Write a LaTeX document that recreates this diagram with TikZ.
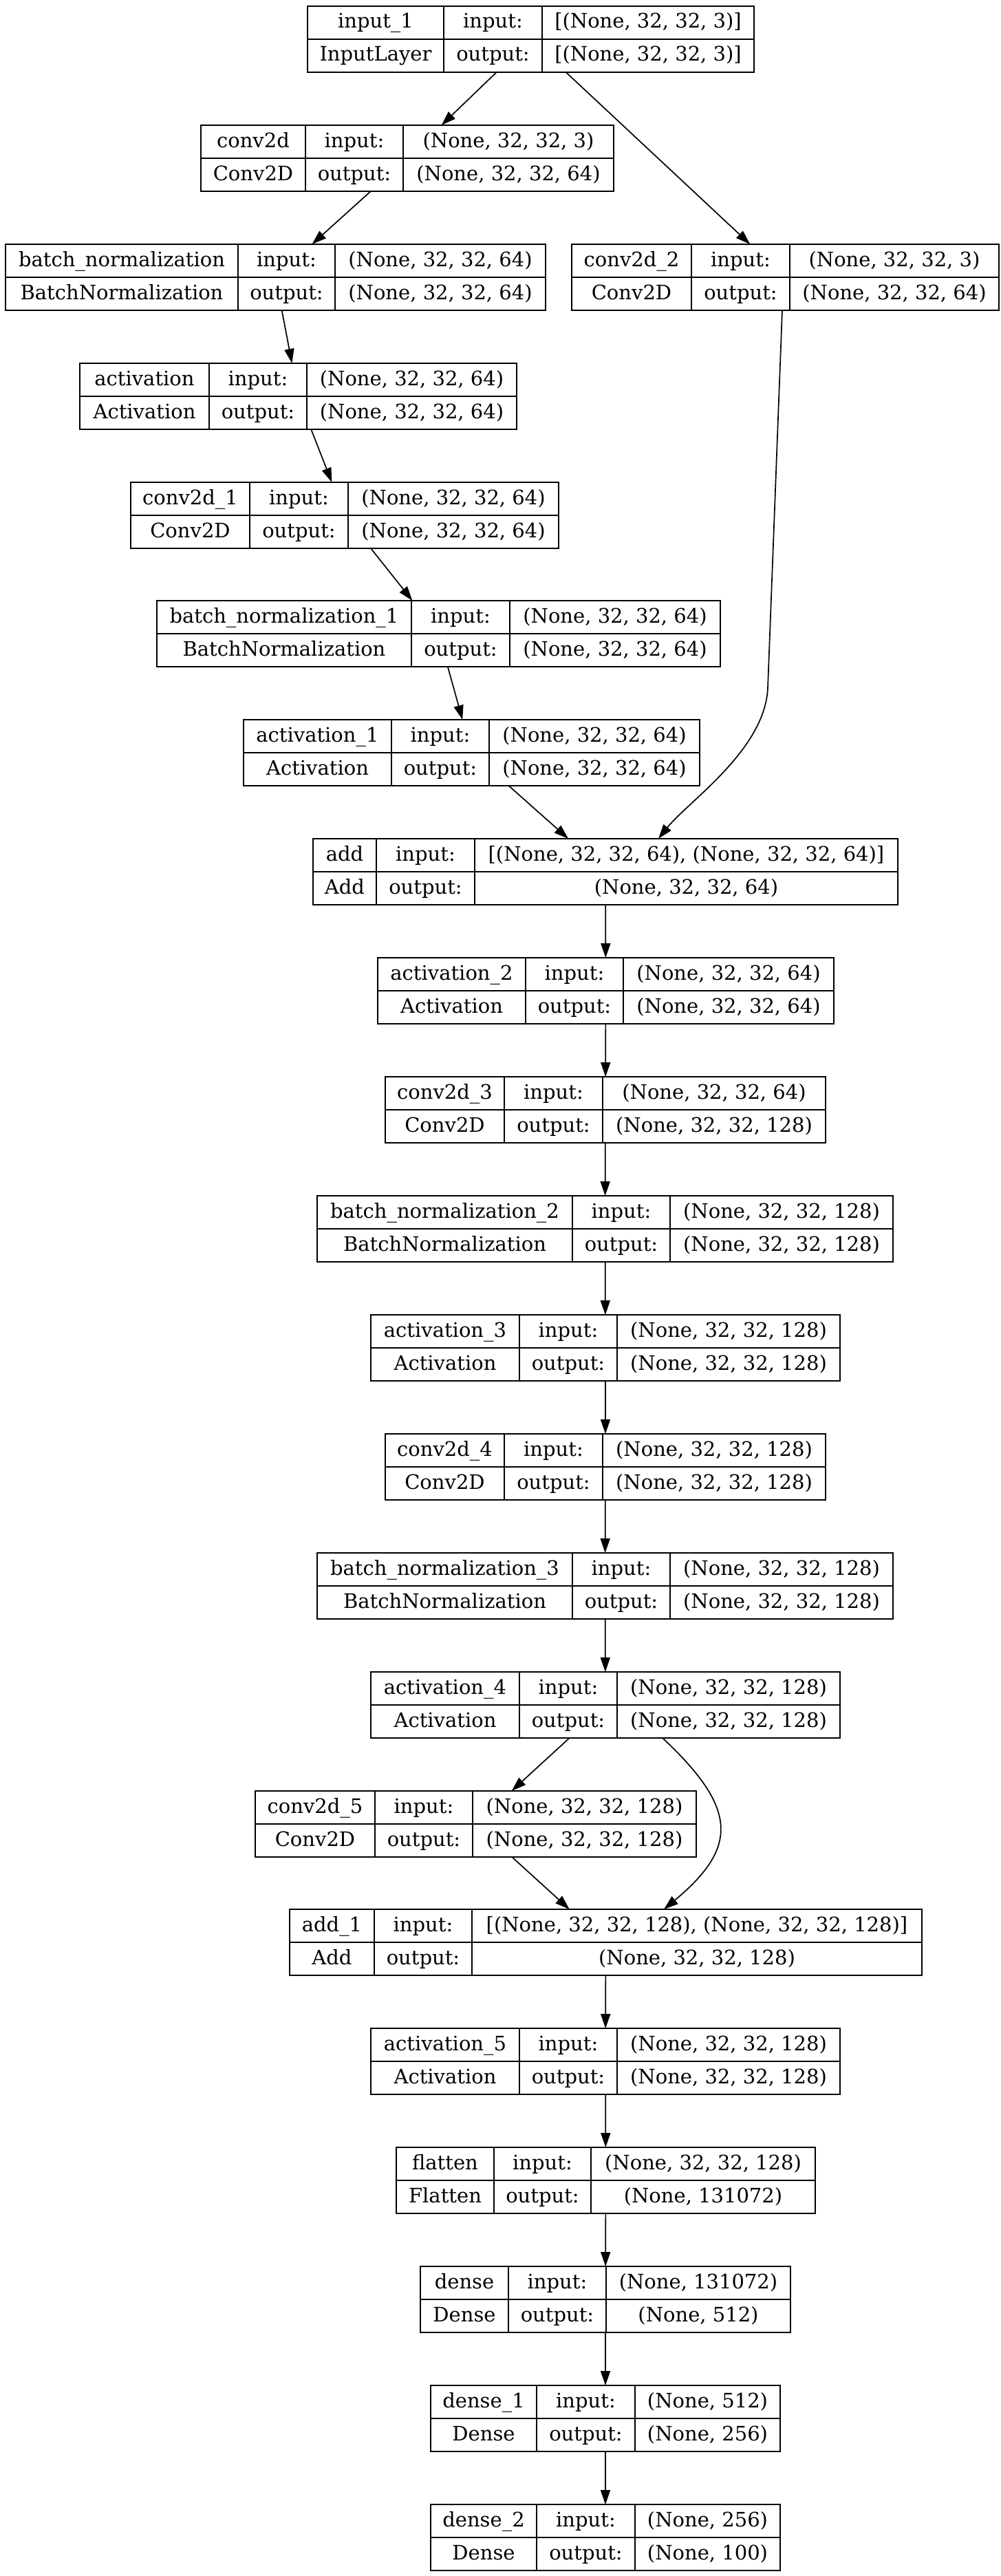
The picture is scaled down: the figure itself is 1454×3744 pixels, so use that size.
\documentclass[tikz,border=0pt]{standalone}
\usepackage{fontspec}
\setmainfont{DejaVu Serif}
\usetikzlibrary{arrows.meta}
\tikzset{
  box/.style={draw, rectangle, line width=2pt, inner sep=0pt, outer sep=0pt},
  sepline/.style={line width=2pt},
  txt/.style={font=\fontsize{29pt}{35pt}\selectfont, inner sep=0pt, anchor=base},
  edge/.style={line width=1.7pt, -{Triangle[length=21pt,width=14pt]}},
}
\newcommand\layer[9]{\def\Lnm{#1}\def\Lx{#2}\def\Ld{#3}\def\Le{#4}\def\Lr{#5}\def\Lt{#6}\def\Lna{#7}\def\Lnb{#8}\def\Lin{#9}\layerrest}
\newcommand\layerrest[1]{%
  \node[box, minimum width={\Lr-\Lx}, minimum height=96, anchor=north west] (\Lnm) at (\Lx,\Lt) {};
  \draw[sepline] (\Ld,\Lt) -- ++(0,96);
  \draw[sepline] (\Le,\Lt) -- ++(0,96);
  \draw[sepline] (\Lx,{\Lt+48}) -- (\Lr,{\Lt+48});
  \node[txt] (\Lnm-a) at ({(\Lx+\Ld)/2},{\Lt+32}) {\Lna};
  \node[txt] (\Lnm-b) at ({(\Lx+\Ld)/2},{\Lt+80}) {\Lnb};
  \node[txt] (\Lnm-c) at ({(\Ld+\Le)/2},{\Lt+32}) {input:};
  \node[txt] (\Lnm-d) at ({(\Ld+\Le)/2},{\Lt+80}) {output:};
  \node[txt] (\Lnm-e) at ({(\Le+\Lr)/2},{\Lt+32}) {\Lin};
  \node[txt] (\Lnm-f) at ({(\Le+\Lr)/2},{\Lt+80}) {#1};
}
\begin{document}
\begin{tikzpicture}[x=1pt,y=-1pt]
\fill[white] (0,0) rectangle (1454,3744);
\layer{inp}{447}{645}{788}{1096}{9}{input\_1}{InputLayer}{[(None, 32, 32, 3)]}{[(None, 32, 32, 3)]}
\layer{conv}{292}{444}{586}{892}{182}{conv2d}{Conv2D}{(None, 32, 32, 3)}{(None, 32, 32, 64)}
\layer{bn}{8}{346}{487}{793}{355}{batch\_normalization}{BatchNormalization}{(None, 32, 32, 64)}{(None, 32, 32, 64)}
\layer{convb}{831}{1005}{1148}{1452}{355}{conv2d\_2}{Conv2D}{(None, 32, 32, 3)}{(None, 32, 32, 64)}
\layer{act}{116}{304}{446}{751}{528}{activation}{Activation}{(None, 32, 32, 64)}{(None, 32, 32, 64)}
\layer{conva}{190}{363}{506}{812}{701}{conv2d\_1}{Conv2D}{(None, 32, 32, 64)}{(None, 32, 32, 64)}
\layer{bna}{228}{598}{741}{1047}{873}{batch\_normalization\_1}{BatchNormalization}{(None, 32, 32, 64)}{(None, 32, 32, 64)}
\layer{acta}{354}{569}{711}{1017}{1046}{activation\_1}{Activation}{(None, 32, 32, 64)}{(None, 32, 32, 64)}
\layer{add}{455}{547}{690}{1305}{1219}{add}{Add}{[(None, 32, 32, 64), (None, 32, 32, 64)]}{(None, 32, 32, 64)}
\layer{actb}{549}{764}{906}{1212}{1392}{activation\_2}{Activation}{(None, 32, 32, 64)}{(None, 32, 32, 64)}
\layer{convc}{560}{733}{876}{1200}{1565}{conv2d\_3}{Conv2D}{(None, 32, 32, 64)}{(None, 32, 32, 128)}
\layer{bnb}{461}{832}{974}{1298}{1738}{batch\_normalization\_2}{BatchNormalization}{(None, 32, 32, 128)}{(None, 32, 32, 128)}
\layer{actc}{539}{755}{897}{1221}{1911}{activation\_3}{Activation}{(None, 32, 32, 128)}{(None, 32, 32, 128)}
\layer{convd}{560}{733}{876}{1200}{2084}{conv2d\_4}{Conv2D}{(None, 32, 32, 128)}{(None, 32, 32, 128)}
\layer{bnc}{461}{832}{974}{1298}{2257}{batch\_normalization\_3}{BatchNormalization}{(None, 32, 32, 128)}{(None, 32, 32, 128)}
\layer{actd}{539}{755}{897}{1221}{2430}{activation\_4}{Activation}{(None, 32, 32, 128)}{(None, 32, 32, 128)}
\layer{conve}{371}{545}{687}{1012}{2603}{conv2d\_5}{Conv2D}{(None, 32, 32, 128)}{(None, 32, 32, 128)}
\layer{addb}{421}{544}{686}{1340}{2775}{add\_1}{Add}{[(None, 32, 32, 128), (None, 32, 32, 128)]}{(None, 32, 32, 128)}
\layer{acte}{539}{755}{897}{1221}{2948}{activation\_5}{Activation}{(None, 32, 32, 128)}{(None, 32, 32, 128)}
\layer{flat}{576}{718}{859}{1185}{3121}{flatten}{Flatten}{(None, 32, 32, 128)}{(None, 131072)}
\layer{dns}{611}{739}{881}{1149}{3294}{dense}{Dense}{(None, 131072)}{(None, 512)}
\layer{dnsa}{626}{780}{923}{1134}{3467}{dense\_1}{Dense}{(None, 512)}{(None, 256)}
\layer{dnsb}{626}{780}{923}{1134}{3640}{dense\_2}{Dense}{(None, 256)}{(None, 100)}
% connectors
\draw[edge] (inp) -- (conv);
\draw[edge] (inp) -- (convb);
\draw[edge] (conv) -- (bn);
\draw[edge] (bn) -- (act);
\draw[edge] (act) -- (conva);
\draw[edge] (conva) -- (bna);
\draw[edge] (bna) -- (acta);
\draw[edge] (acta) -- (add);
\draw[edge] ([xshift=-4.5pt]convb.south) -- (1116,1000) .. controls (1112,1090) and (1000,1165) .. ([xshift=77pt]add.north);
\draw[edge] (add) -- (actb);
\draw[edge] (actb) -- (convc);
\draw[edge] (convc) -- (bnb);
\draw[edge] (bnb) -- (actc);
\draw[edge] (actc) -- (convd);
\draw[edge] (convd) -- (bnc);
\draw[edge] (bnc) -- (actd);
\draw[edge] (actd) -- (conve);
\draw[edge] ([xshift=83pt]actd.south) .. controls (1073,2629) and (1073,2685) .. ([xshift=84.5pt]addb.north);
\draw[edge] (conve) -- (addb);
\draw[edge] (addb) -- (acte);
\draw[edge] (acte) -- (flat);
\draw[edge] (flat) -- (dns);
\draw[edge] (dns) -- (dnsa);
\draw[edge] (dnsa) -- (dnsb);
\end{tikzpicture}
\end{document}
